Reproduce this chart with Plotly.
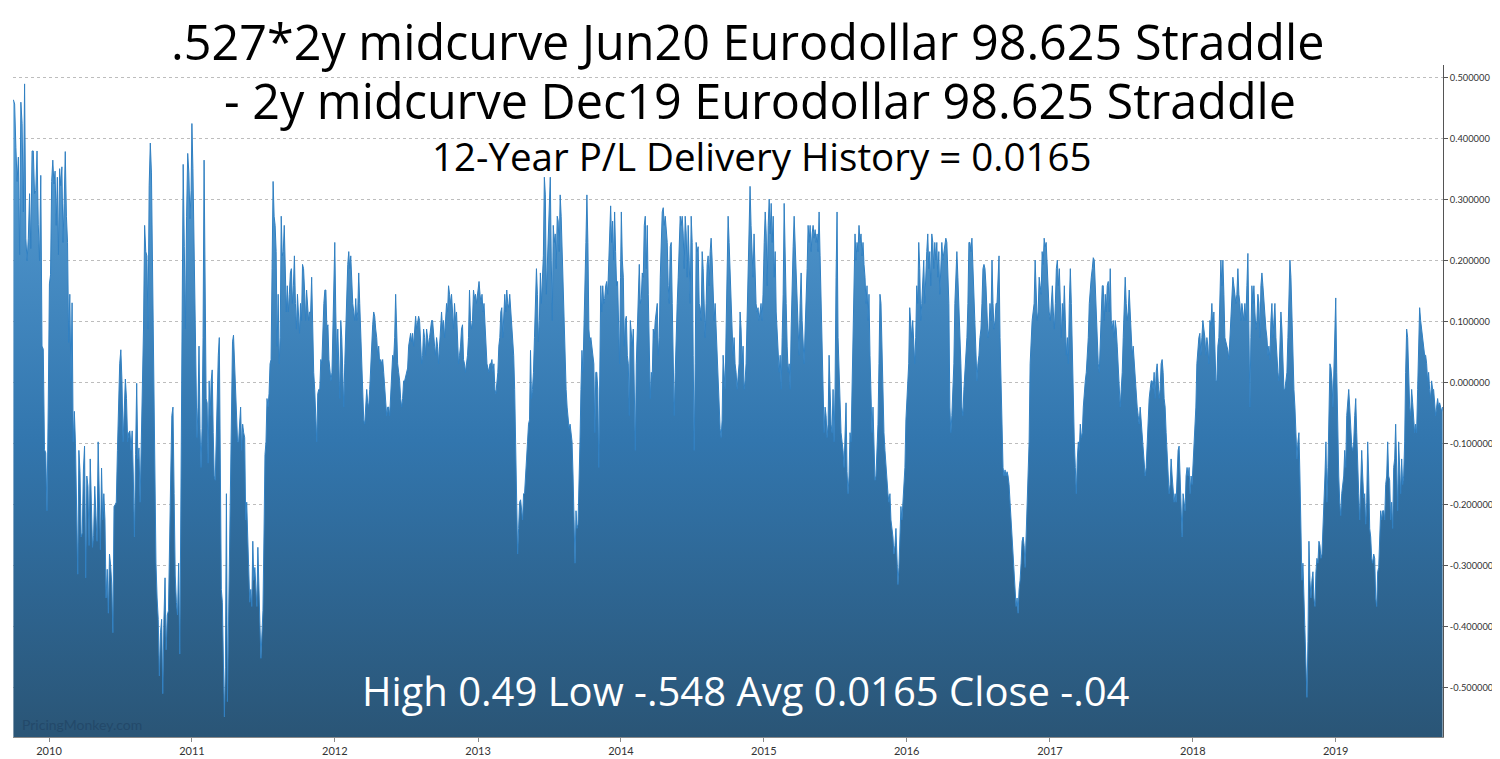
import pandas as pd
import plotly.graph_objects as go

# ---------------- data ----------------
v2009 = [0.464, 0.457, 0.386, 0.33, 0.37, 0.21, 0.46, 0.425, 0.28, 0.49, 0.237, 0.20, 0.237, 0.31, 0.22,
         0.38, 0.38, 0.31, 0.315, 0.38, 0.26, 0.20, 0.34, 0.06, 0.055, -0.11, -0.115, -0.21, -0.04]
v2010 = [0.162, 0.177, 0.33, 0.365, 0.326, 0.347, 0.258, 0.337, 0.21, 0.351, 0.323, 0.354, 0.23, 0.294, 0.379,
         0.273, 0.23, 0.066, 0.145, 0.003, 0.131, -0.097, -0.047, -0.10, -0.253, -0.314, -0.111, -0.146, -0.253,
         -0.246, -0.143, -0.104, -0.32, -0.153, -0.17, -0.267, -0.125, -0.225, -0.27, -0.25, -0.17, -0.218, -0.26,
         -0.097, -0.182, -0.274, -0.14, -0.225, -0.182, -0.225, -0.353, -0.306, -0.378, -0.281, -0.299, -0.331,
         -0.41, -0.203, -0.20, -0.196, -0.111, -0.026, 0.031, 0.054, 0.003, -0.097, -0.054, 0.006, -0.026, -0.097,
         -0.082, -0.079, -0.111, -0.079, -0.153, -0.253, -0.118, -0.001, -0.125, -0.107, -0.196, -0.104, 0.003,
         0.088, 0.258, 0.215, 0.208, 0.088, 0.323, 0.393, 0.344, 0.173, 0.031, -0.21, -0.296, -0.353, -0.388,
         -0.481, -0.41, -0.388, -0.51, -0.388, -0.32, -0.438, -0.381, -0.374, -0.218, -0.153, -0.054, -0.04,
         -0.182, -0.317, -0.36, -0.381, -0.296, -0.445, -0.189, 0.081, 0.358, 0.223, 0.088, 0.273, 0.376, 0.344,
         0.269, 0.315]
v2011 = [0.425, 0.351, 0.223, 0.074, -0.026, -0.09, -0.04, 0.06, -0.075, -0.139, -0.075, 0.074, 0.365, 0.116,
         -0.026, -0.033, -0.132, 0.003, -0.054, 0.003, 0.021, -0.082, -0.153, -0.16, -0.09, 0.003, 0.045, 0.074,
         -0.239, -0.339, -0.36, -0.481, -0.548, -0.467, -0.182, -0.523, -0.403, -0.267, -0.153, 0.017, 0.067,
         0.078, 0.031, -0.033, -0.075, -0.097, -0.097, -0.068, -0.04, -0.111, -0.068, -0.082, -0.09, -0.225,
         -0.196, -0.253, -0.335,
         -0.36, -0.339, -0.367, -0.26, -0.324, -0.303, -0.353, -0.367, -0.27, -0.353, -0.395, -0.452, -0.417,
         -0.374, -0.253, -0.118, -0.097, -0.026, -0.04, -0.018, 0.031, 0.038, 0.187, 0.33, 0.273, 0.258, 0.215,
         0.06, 0.145, 0.031, 0.074, 0.273, 0.208, 0.215, 0.258, 0.173, 0.116, 0.159, 0.116, 0.145, 0.18, 0.187,
         0.13, 0.159, 0.208, 0.13, 0.088, 0.145, 0.109, 0.081, 0.13, 0.102, 0.194, 0.187, 0.152, 0.102, 0.152,
         0.116, 0.102, 0.116, 0.116, 0.173, 0.088, 0.017, -0.011, -0.054, -0.097, -0.018, -0.011, -0.011, 0.038,
         0.031, 0.088, 0.13, 0.152, 0.152, 0.088, 0.095, 0.038, 0.017, 0.003, 0.017, 0.102, 0.159]
v2012 = [0.23, 0.116, 0.031, 0.088, 0.031, -0.026, 0.102, 0.074, 0.017, -0.04, 0.031, 0.088, 0.159, 0.194, 0.215,
         0.187, 0.208, 0.159, 0.13, 0.116, 0.102, 0.138, 0.102, 0.116, 0.18, 0.13, 0.088, 0.031, -0.011, -0.061,
         -0.068, -0.04, -0.011, -0.033, -0.04, -0.011, 0.031, 0.06, 0.095, 0.116, 0.109, 0.088, 0.074, 0.045,
         0.06, 0.031, 0.038, 0.031, 0.038, 0.017, -0.011, -0.033, -0.054, -0.04, -0.04, -0.054, -0.018, 0.003,
         0.045, 0.038, 0.074, 0.145, 0.074, 0.031, 0.017, 0.003, -0.026, -0.04, -0.026, 0.003, 0.003, 0.01,
         0.017, 0.024, 0.06, 0.074, 0.081, 0.067, 0.081, 0.06, 0.095, 0.109, 0.088, 0.102, 0.109, 0.102, 0.074,
         0.031, 0.045, 0.088, 0.074, 0.045, 0.088, 0.074, 0.06, 0.074, 0.088, 0.102, 0.102, 0.074, 0.06, 0.045,
         0.074, 0.06, 0.031, 0.06, 0.088, 0.116, 0.088, 0.102, 0.074, 0.116, 0.13, 0.116, 0.159, 0.145, 0.13,
         0.145, 0.116, 0.088, 0.13, 0.102, 0.116, 0.074, 0.031, 0.045, 0.06, 0.088, 0.095, 0.038, 0.031, 0.017,
         0.031, 0.045, 0.074, 0.152, 0.102, 0.088, 0.102, 0.152, 0.138, 0.145, 0.13]
v2013 = [0.159, 0.166, 0.145, 0.13, 0.145, 0.116, 0.13, 0.088, 0.074, 0.031, 0.024, 0.017, 0.031,
         0.031, 0.038, 0.017, 0.031, -0.011, -0.018, 0.003, 0.017, 0.06, 0.074, 0.116, 0.123, 0.074, 0.102,
         0.145, 0.116, 0.152, 0.13, 0.123, 0.145, 0.116, 0.102, 0.074, 0.045, -0.011, -0.111, -0.182, -0.281,
         -0.239, -0.196, -0.192, -0.21, -0.225, -0.182, -0.182, -0.153, -0.111, -0.097, -0.068, -0.061, 0.053,
         -0.026, -0.011, 0.017, 0.074, 0.13, 0.187, 0.145, 0.067, 0.102, 0.18, 0.13, 0.159, 0.208, 0.337, 0.308,
         0.145, 0.187, 0.223, 0.294, 0.337, 0.201, 0.102, 0.258, 0.23, 0.244, 0.187, 0.273, 0.265, 0.215, 0.308,
         0.273, 0.215, 0.13, 0.074, 0.031, -0.011, -0.04, -0.068, -0.075, -0.068, -0.082, -0.097, -0.153, -0.225,
         -0.296, -0.21, -0.239, -0.232, -0.182, -0.097, -0.011, 0.053, 0.017, 0.074, 0.13, 0.23, 0.308, 0.23,
         0.088, 0.067, 0.074, 0.06, 0.045, 0.031, -0.082, 0.017, 0.017, -0.011, -0.139, 0.031, 0.159, 0.116,
         0.159, 0.13, 0.138, 0.159, 0.166, 0.145, 0.194, 0.258, 0.29, 0.23, 0.265, 0.201, 0.28, 0.215, 0.159,
         0.166, 0.088, 0.031, 0.173]
v2014 = [0.28, 0.201, 0.173, 0.06, 0.102, 0.109, 0.045, 0.031, -0.054, 0.102, 0.074, 0.06, 0.088, -0.068,
         -0.111, 0.031, 0.088, 0.159, 0.194, 0.13, 0.138, 0.18, 0.173, 0.258, 0.273, 0.187, 0.258, 0.145, 0.074,
         -0.026, 0.017, 0.01, 0.088, 0.074, 0.102, 0.116, 0.13, 0.045, 0.074, 0.173, 0.244, 0.28, 0.287, 0.258,
         0.273, 0.244, 0.23, 0.159, 0.13, 0.223, 0.23, 0.13, 0.031, -0.054, 0.017, 0.102, 0.13, 0.173, 0.23,
         0.273, 0.258, 0.273, 0.244, 0.187, 0.273, 0.244, 0.173, 0.258, 0.201, 0.13, 0.273, 0.23, 0.045, -0.111,
         0.031, 0.23, 0.215, 0.223, 0.13, 0.123, 0.102, 0.215, 0.187, 0.102, 0.074, 0.13, 0.194, 0.208, 0.159,
         0.215, 0.237, 0.201, 0.145, 0.102, 0.13, 0.088, 0.031, -0.011, -0.054, -0.075, -0.09, -0.061, 0.045,
         0.017, -0.011, 0.088, 0.173, 0.273, 0.23,
         0.173, 0.145, 0.088, 0.045, 0.074, 0.031, 0.017, -0.011, 0.017, 0.031, 0.116, 0.088, 0.031, 0.06,
         -0.011, 0.003, 0.031, 0.102, 0.159, 0.244, 0.322, 0.258, 0.208, 0.173, 0.244, 0.173, 0.13, 0.116, 0.123,
         0.102, 0.116, 0.13, 0.102, 0.145]
v2015 = [0.23, 0.28, 0.244, 0.159, 0.258, 0.301, 0.244, 0.294, 0.23, 0.273, 0.173, 0.215, 0.116, 0.074, 0.031,
         0.017, 0.045, -0.011, 0.074, 0.145, 0.294, 0.187, 0.13, 0.06, 0.017, 0.031, -0.011, 0.088, 0.187, 0.223,
         0.273, 0.23, 0.187, 0.116, 0.088, 0.045, 0.13, 0.18, 0.102, 0.074, 0.031, 0.088, 0.13, 0.187, 0.258,
         0.23, 0.258, 0.215, 0.244, 0.258, 0.237, 0.251, 0.23, 0.244, 0.215, 0.28, 0.208, 0.13, 0.045, -0.011,
         -0.082, -0.04, -0.054, -0.09, -0.068, 0.045, -0.011, -0.068, -0.082, -0.011, -0.097, -0.011, 0.173,
         0.28, 0.074, 0.017, -0.033, -0.082, -0.097, -0.111, -0.139, -0.097, -0.033, -0.146, -0.182, -0.153,
         -0.082, -0.097, -0.011, 0.074, 0.187, 0.244, 0.201, 0.23, 0.215, 0.258, 0.23, 0.244, 0.208, 0.23, 0.194,
         0.173, 0.13, 0.159, 0.102, 0.145, 0.045, -0.04, -0.082, -0.04, -0.111, -0.16, -0.153, -0.104, -0.068,
         0.031, 0.145, 0.13, 0.045, -0.04, -0.082, -0.111, -0.139, -0.167, -0.182, -0.196, -0.182, -0.225,
         -0.239, -0.253, -0.281, -0.267, -0.239, -0.274, -0.331, -0.303, -0.225, -0.203, -0.225, -0.196, -0.182,
         -0.139, -0.061]
v2016 = [-0.026, 0.017, 0.031, 0.123, 0.088, 0.074, 0.102, 0.067, 0.031, 0.074, 0.159, 0.13, 0.23, 0.187, 0.102,
         0.13, 0.173, 0.201, 0.13, 0.187, 0.215, 0.244, 0.187, 0.215, 0.159, 0.244, 0.23, 0.187, 0.23, 0.201,
         0.23, 0.173, 0.215, 0.145, 0.187, 0.23, 0.201, 0.215, 0.23, 0.237, 0.23, 0.187, 0.13, -0.04, -0.082,
         -0.054, -0.011, 0.031, 0.13, 0.187, 0.215, 0.173, 0.13, 0.102, 0.031, -0.04, -0.054, -0.011, 0.017,
         0.031, 0.074, 0.13, 0.23,
         0.23, 0.215, 0.237, 0.187, 0.145, 0.102, 0.045, 0.003, 0.031, 0.045, 0.074, 0.088, 0.13, 0.187, 0.194,
         0.187, 0.159, 0.102, 0.074, 0.088, 0.13, 0.102, 0.201, 0.13, 0.088, 0.102, 0.13, 0.13, 0.159, 0.208,
         0.074, -0.011, -0.097, -0.139, -0.153, -0.143, -0.153, -0.146, -0.153, -0.167, -0.196, -0.225, -0.239,
         -0.267, -0.296, -0.324, -0.367, -0.353, -0.378, -0.339, -0.324, -0.296, -0.26, -0.253, -0.267, -0.303,
         -0.253, -0.225, -0.182, -0.097, 0.031, 0.074, 0.102, 0.116, 0.13, 0.201, 0.13, 0.102, 0.116, 0.173,
         0.159, 0.145, 0.215, 0.194, 0.237, 0.223, 0.23, 0.187, 0.159, 0.116]
v2017 = [0.102, 0.13, 0.159, 0.116, 0.088, 0.13, 0.187, 0.201, 0.159, 0.187, 0.13, 0.074, 0.13, 0.102, 0.159,
         0.116, 0.045, 0.074, 0.031, 0.13, 0.187, 0.13, 0.045, -0.04, -0.097, -0.139, -0.182, -0.125, -0.097,
         -0.111, -0.068, -0.09, -0.082, -0.04, -0.011, 0.003, 0.017, 0.045, 0.074, 0.13, 0.159, 0.173, 0.187,
         0.205, 0.201, 0.159, 0.102, 0.045, 0.031, 0.017, 0.074, 0.13, 0.159, 0.159, 0.102, 0.145, 0.116, 0.159,
         0.166, 0.116, 0.187, 0.102, 0.088, 0.102, 0.074, 0.102, 0.088, 0.06, 0.017, -0.026, -0.04, -0.011,
         0.017, 0.074, 0.13, 0.173, 0.13, 0.102, 0.116, 0.152, 0.116, 0.074, 0.045, 0.06, 0.031, 0.003, -0.011,
         -0.04, -0.054, -0.068, -0.04, -0.061, -0.082, -0.097, -0.118, -0.153, -0.139, -0.097, -0.054, -0.026,
         -0.011, 0.003, 0.003, -0.011, 0.017, -0.026, 0.017, 0.031, 0.003, -0.026, -0.011, 0.031, 0.038, 0.017,
         -0.026, -0.04, -0.082, -0.111, -0.153, -0.182, -0.167, -0.125, -0.153, -0.182, -0.196, -0.182, -0.196,
         -0.153, -0.111, -0.104, -0.153, -0.182, -0.253, -0.182, -0.196, -0.21, -0.153, -0.139, -0.153, -0.139,
         -0.182, -0.153, -0.167]
v2018 = [-0.139, -0.097, -0.082, -0.04, 0.031, 0.06, 0.074, 0.081, 0.045, 0.074, 0.102, 0.088, 0.074, 0.045,
         0.074, 0.06, 0.031,
         0.102, 0.095, 0.13, 0.088, 0.116, 0.031, 0.003, 0.003, 0.06, 0.074, 0.13, 0.201, 0.159, 0.201, 0.145,
         0.074, 0.067, 0.06, 0.053, 0.038, 0.074, 0.102, 0.13, 0.173, 0.159, 0.145, 0.13, 0.145, 0.187, 0.145,
         0.13, 0.102, 0.13, 0.116, 0.102, 0.13, 0.102, 0.159, 0.212, 0.088, -0.04, 0.074, 0.159, 0.13, 0.159,
         0.116, 0.088, 0.102, 0.145, 0.13, 0.074, 0.159, 0.18, 0.159, 0.13, 0.102, 0.088, 0.074, 0.045, 0.06,
         0.038, 0.102, 0.13, 0.074, 0.102, 0.13, 0.074, 0.031, 0.017, 0.003, 0.045, 0.116, 0.088, 0.017, -0.011,
         -0.011, 0.003, 0.017, 0.074, 0.13, 0.201, 0.173, 0.116, 0.031, -0.011, -0.04, -0.082, -0.125, -0.097,
         -0.082, -0.153, -0.253, -0.324, -0.296, -0.353, -0.41, -0.467, -0.516, -0.424, -0.26, -0.324, -0.353,
         -0.324, -0.31, -0.353, -0.367, -0.31, -0.288, -0.296, -0.26, -0.267, -0.288, -0.281, -0.239, -0.225,
         -0.153, -0.097, -0.196, -0.139, -0.026, 0.031, 0.024, 0.003, -0.04, 0.017, 0.074]
v2019 = [0.139, 0.017, -0.111, -0.153, -0.196, -0.218, -0.182, -0.167, -0.153, -0.111, -0.139, -0.054, -0.026,
         -0.011, -0.04, -0.082, -0.104, -0.111, -0.097, -0.054, -0.026, -0.082, -0.153, -0.182, -0.225, -0.182,
         -0.111, -0.153, -0.189, -0.182, -0.232, -0.196, -0.097, -0.153, -0.239, -0.253, -0.288, -0.296, -0.281,
         -0.288, -0.353, -0.367, -0.31, -0.303, -0.267, -0.21, -0.225, -0.21, -0.21, -0.225, -0.167, -0.153,
         -0.097, -0.153, -0.16, -0.225, -0.196, -0.239, -0.139, -0.125, -0.068, -0.153, -0.21, -0.097, -0.153,
         -0.182, -0.125, -0.167, -0.153, -0.097, 0.017, 0.088, 0.074, 0.017, -0.04, -0.054, -0.011, -0.033,
         -0.054, -0.082, -0.068, -0.082, -0.011, 0.074, 0.123, 0.102, 0.088, 0.074, 0.06, 0.045, 0.045, 0.031,
         0.003, 0.017, -0.011, -0.026, 0.003, -0.011, -0.011, -0.04, -0.054, -0.04, -0.026, -0.04, -0.033,
         -0.04, -0.047, -0.04]

# each chunk: (first date, last date, values)
chunks = [
    ("2009-10-02", "2009-12-30", v2009),
    ("2010-01-02", "2010-12-30", v2010),
    ("2011-01-01", "2011-12-30", v2011),
    ("2012-01-01", "2012-12-28", v2012),
    ("2013-01-01", "2013-12-31", v2013),
    ("2014-01-02", "2014-12-30", v2014),
    ("2015-01-02", "2015-12-30", v2015),
    ("2016-01-01", "2016-12-30", v2016),
    ("2017-01-02", "2017-12-30", v2017),
    ("2018-01-01", "2018-12-30", v2018),
    ("2019-01-01", "2019-10-01", v2019),
]

year_ticks = ["2010-01-01", "2011-01-01", "2012-01-01", "2013-01-01", "2014-01-01", "2015-01-01",
              "2016-01-01", "2017-01-01", "2018-01-01", "2019-01-01"]
year_labels = ["2010", "2011", "2012", "2013", "2014", "2015", "2016", "2017", "2018", "2019"]
y_ticks = [0.5, 0.4, 0.3, 0.2, 0.1, 0.0, -0.1, -0.2, -0.3, -0.4, -0.5]
y_labels = [f"{v:.6f}" for v in y_ticks]

title1 = ".527*2y midcurve Jun20 Eurodollar 98.625 Straddle"
title2 = "- 2y midcurve Dec19 Eurodollar 98.625 Straddle"
title3 = "12-Year P/L Delivery History = 0.0165"
stats = "High 0.49 Low -.548 Avg 0.0165 Close -.04"
watermark = "PricingMonkey.com"

Y_MIN, Y_MAX = -0.581, 0.521

# ---------------- build series ----------------
dates, values = [], []
for start, end, vals in chunks:
    d = pd.date_range(start, end, periods=len(vals))
    dates.extend(list(d))
    values.extend(vals)

fig = go.Figure()
fig.add_trace(go.Scatter(x=dates, y=[Y_MIN] * len(dates), mode="lines",
                         line=dict(width=0, color="rgba(0,0,0,0)"), hoverinfo="skip",
                         showlegend=False))
fig.add_trace(go.Scatter(
    x=dates, y=values, mode="lines", fill="tonexty",
    line=dict(color="#3180c2", width=1),
    fillgradient=dict(type="vertical", start=Y_MIN, stop=0.5,
                      colorscale=[[0, "#2a5576"], [0.45, "#3276ae"], [1, "#5ca3da"]]),
    showlegend=False,
))

font_title = "Open Sans"
# tight text boxes (bottom-aligned) so the closely spaced title lines do not overlap
ann = [
    dict(text=title1, x=0.5133, y=0.9833, size=48.5, h=54, color="#000000"),
    dict(text=title2, x=0.5227, y=0.8961, size=48.5, h=54, color="#000000"),
    dict(text=title3, x=0.5234, y=0.8225, size=38.5, h=43, color="#000000"),
]
for a in ann:
    fig.add_annotation(text=a["text"], xref="paper", yref="paper", x=a["x"], y=a["y"],
                       xanchor="center", yanchor="bottom", valign="bottom", height=a["h"],
                       showarrow=False,
                       font=dict(family=font_title, size=a["size"], color=a["color"]))
fig.add_annotation(text=stats, xref="paper", yref="paper", x=0.5129, y=0.0693,
                   xanchor="center", yanchor="middle", showarrow=False,
                   font=dict(family=font_title, size=40, color="#ffffff"))
fig.add_annotation(text=watermark, xref="paper", yref="paper", x=0.005, y=0.018,
                   xanchor="left", yanchor="middle", showarrow=False,
                   font=dict(family="Lato", size=14, color="#23496a"))

# the page body adds an 8px offset on the left/top, so margins are shifted by 8px
fig.update_layout(
    width=1500, height=759,
    margin=dict(l=5, r=65, t=57, b=30, autoexpand=False),
    paper_bgcolor="white", plot_bgcolor="white",
    showlegend=False,
    xaxis=dict(range=["2009-10-01", "2019-10-02"], tickvals=year_ticks, ticktext=year_labels,
               automargin=False,
               showgrid=False, zeroline=False, showline=True, linecolor="#8a8a8a", linewidth=1,
               ticks="outside", ticklen=4, tickcolor="#8a8a8a",
               tickfont=dict(family="Lato", size=11, color="#333333")),
    yaxis=dict(range=[Y_MIN, Y_MAX], side="right", tickvals=y_ticks, ticktext=y_labels,
               automargin=False,
               showgrid=True, gridcolor="#bdbdbd", griddash="dot", gridwidth=1,
               zeroline=False, showline=True, linecolor="#555555", linewidth=1,
               ticks="outside", ticklen=4, tickcolor="#555555",
               tickfont=dict(family="Lato", size=9.3, color="#333333")),
)

fig.write_html("out.html")
